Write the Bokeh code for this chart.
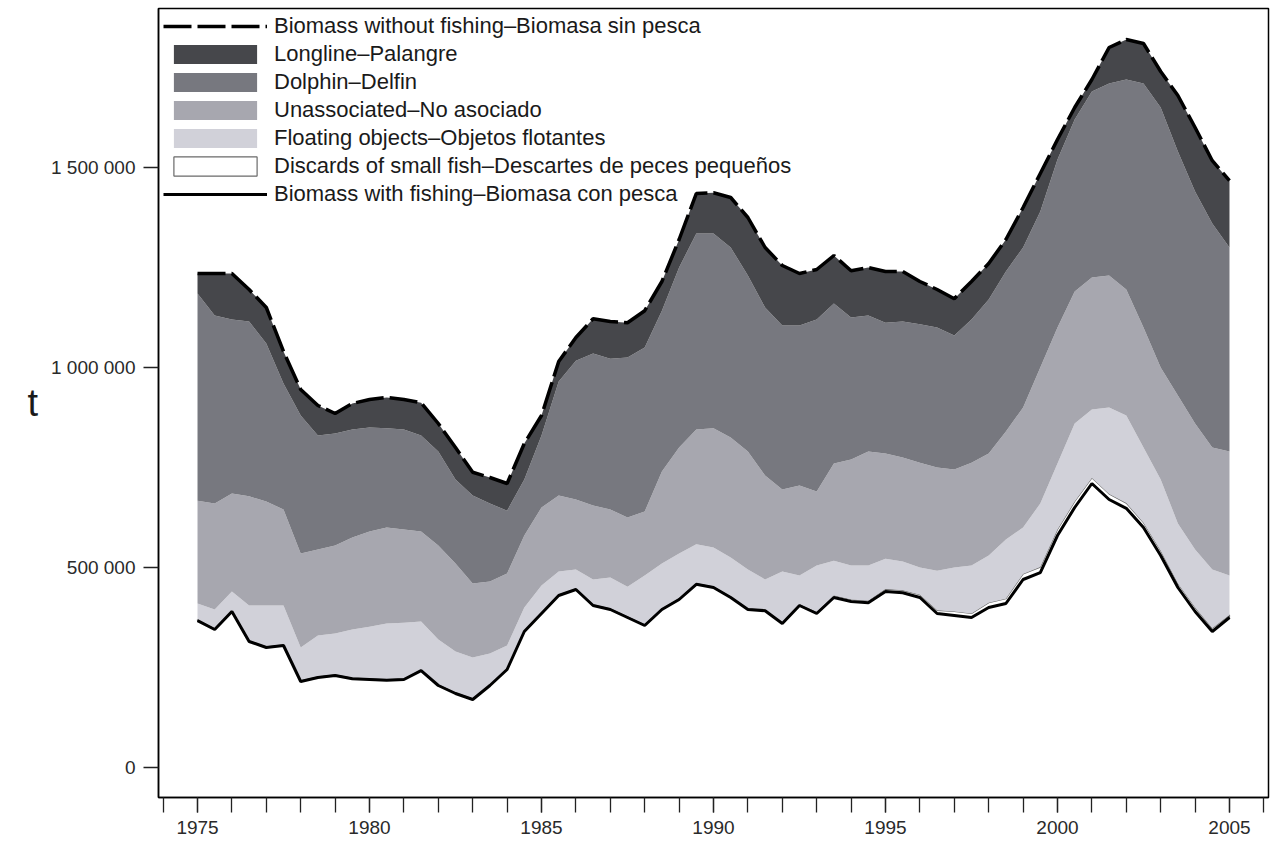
import numpy as np
from bokeh.plotting import figure
from bokeh.models import (Range1d, SingleIntervalTicker, FixedTicker, Legend,
                          LegendItem, ColumnDataSource)
from bokeh.embed import file_html
from bokeh.resources import INLINE

# Half-yearly time steps, 1975-2005
years = [1975 + 0.5 * i for i in range(61)]

# Spawning biomass with fishing (thousand t)
with_fishing = [367, 345, 390, 315, 300, 305, 215, 225, 230, 222,
                220, 218, 220, 242, 205, 185, 170, 205, 245, 340,
                385, 430, 445, 405, 395, 375, 355, 395, 420, 458,
                450, 425, 395, 392, 360, 405, 385, 425, 415, 412,
                440, 437, 425, 385, 380, 375, 400, 410, 470, 487,
                580, 650, 710, 670, 648, 600, 530, 450, 390, 340,
                375]

# Impact of each fishery on biomass (thousand t)
discards = [3, 3, 3, 3, 3, 3, 3, 3, 3, 3,
            3, 3, 3, 3, 3, 3, 3, 3, 3, 3,
            3, 3, 3, 3, 3, 3, 3, 3, 3, 3,
            3, 3, 3, 3, 3, 3, 4, 5, 5, 5,
            6, 6, 7, 8, 10, 10, 12, 12, 14, 14,
            15, 15, 14, 14, 13, 12, 12, 10, 10, 8,
            6]
floating = [40, 47, 47, 87, 102, 97, 82, 102, 102, 120,
            129, 139, 139, 120, 112, 102, 102, 77, 57, 57,
            67, 57, 47, 62, 77, 74, 122, 112, 112, 97,
            97, 97, 97, 75, 127, 72, 116, 87, 85, 88,
            76, 72, 68, 99, 110, 120, 118, 148, 116, 159,
            165, 195, 171, 216, 219, 188, 178, 150, 145, 147,
            99]
unassociated = [257, 265, 245, 273, 260, 240, 235, 215, 220, 230,
                238, 240, 233, 225, 235, 220, 185, 180, 180, 180,
                195, 190, 175, 185, 170, 173, 160, 230, 265, 287,
                298, 300, 295, 260, 205, 225, 185, 243, 265, 285,
                263, 260, 262, 258, 245, 257, 255, 270, 300, 340,
                340, 330, 330, 330, 315, 300, 280, 320, 315, 305,
                310]
dolphin = [518, 470, 435, 437, 395, 315, 345, 285, 280, 270,
           260, 248, 250, 240, 235, 210, 220, 195, 157, 140,
           180, 285, 347, 380, 377, 400, 410, 402, 450, 490,
           487, 475, 440, 420, 410, 400, 430, 400, 355, 340,
           327, 340, 346, 350, 335, 358, 385, 400, 400, 390,
           420, 430, 465, 480, 525, 610, 650, 610, 580, 560,
           510]
longline = [50, 105, 115, 80, 90, 80, 65, 75, 50, 65,
            70, 77, 75, 82, 70, 80, 58, 65, 68, 90,
            50, 50, 58, 87, 93, 87, 92, 73, 70, 100,
            102, 125, 145, 150, 150, 130, 125, 120, 117, 120,
            128, 125, 107, 95, 92, 95, 90, 80, 100, 95,
            50, 30, 30, 90, 100, 100, 90, 140, 160, 157,
            167]

series = [("Discards of small fish\u2013Descartes de peces peque\u00f1os", discards, "white"),
          ("Floating objects\u2013Objetos flotantes", floating, "#d1d1d9"),
          ("Unassociated\u2013No asociado", unassociated, "#a7a7af"),
          ("Dolphin\u2013Delfin", dolphin, "#77787f"),
          ("Longline\u2013Palangre", longline, "#46474b")]

t = 1000.0  # thousand t -> t
base = np.array(with_fishing, dtype=float) * t
data = {"year": years, "b0": base}
bounds = [base]
for i, (_, vals, _) in enumerate(series):
    bounds.append(bounds[-1] + np.array(vals, dtype=float) * t)
    data["b%d" % (i + 1)] = bounds[-1]
src = ColumnDataSource(data)

FONT = "Liberation Sans"

p = figure(width=1272, height=845,
           x_range=Range1d(1973.866, 2006.134),
           y_range=Range1d(-75000, 1897500),
           output_backend="svg", toolbar_location=None,
           min_border_left=158, min_border_right=4,
           min_border_top=8, min_border_bottom=48)
p.grid.visible = False
p.outline_line_color = "black"
p.outline_line_width = 1.5
p.background_fill_color = "white"

band_renderers = {}
# discards band as an outlined polygon between the two lowest bounds
poly_x = list(years) + list(years[::-1])
poly_y = list(bounds[1]) + list(bounds[0][::-1])
band_renderers[series[0][0]] = p.patch(poly_x, poly_y, fill_color="white",
                                       line_color="#6a6a6a", line_width=1.2)
for i, (name, _, color) in enumerate(series):
    if i == 0:
        continue
    r = p.varea(x="year", y1="b%d" % i, y2="b%d" % (i + 1), source=src,
                fill_color=color)
    band_renderers[name] = r

top_line = p.line(x="year", y="b5", source=src, line_color="black",
                  line_width=3.5, line_dash="28 6")
bottom_line = p.line(x="year", y="b0", source=src, line_color="black",
                     line_width=3)

names = [s[0] for s in series]
items = [
    LegendItem(label="Biomass without fishing\u2013Biomasa sin pesca", renderers=[top_line]),
    LegendItem(label=names[4], renderers=[band_renderers[names[4]]]),
    LegendItem(label=names[3], renderers=[band_renderers[names[3]]]),
    LegendItem(label=names[2], renderers=[band_renderers[names[2]]]),
    LegendItem(label=names[1], renderers=[band_renderers[names[1]]]),
    LegendItem(label=names[0], renderers=[band_renderers[names[0]]]),
    LegendItem(label="Biomass with fishing\u2013Biomasa con pesca", renderers=[bottom_line]),
]
legend = Legend(items=items, location="top_left",
                background_fill_alpha=0, border_line_alpha=0,
                margin=5, padding=0, spacing=2,
                glyph_width=104, glyph_height=24, label_height=24,
                label_standoff=7,
                label_text_font=FONT, label_text_font_size="22px",
                label_text_color="#1a1a1a")
p.add_layout(legend)

# x axis: labelled every 5 years, ticked every year
xa = p.xaxis[0]
xa.ticker = SingleIntervalTicker(interval=5, num_minor_ticks=5)
xa.major_tick_in = 0
xa.major_tick_out = 15
xa.minor_tick_in = 0
xa.minor_tick_out = 15
xa.major_tick_line_color = "#222222"
xa.minor_tick_line_color = "#222222"
xa.major_tick_line_width = 1.3
xa.minor_tick_line_width = 1.3
xa.axis_line_color = "black"
xa.axis_line_width = 1.5
xa.major_label_standoff = 8
xa.major_label_text_font = FONT
xa.major_label_text_font_size = "19px"
xa.major_label_text_color = "#2a2a2a"

ya = p.yaxis[0]
ya.ticker = FixedTicker(ticks=[0, 500000, 1000000, 1500000])
ya.major_label_overrides = {0: "0", 500000: "500 000",
                            1000000: "1 000 000", 1500000: "1 500 000"}
ya.major_tick_in = 0
ya.major_tick_out = 15
ya.minor_tick_out = 0
ya.minor_tick_in = 0
ya.major_tick_line_color = "#222222"
ya.major_tick_line_width = 1.3
ya.axis_line_color = "black"
ya.axis_line_width = 1.5
ya.major_label_standoff = 8
ya.major_label_text_font = FONT
ya.major_label_text_font_size = "19px"
ya.major_label_text_color = "#2a2a2a"
ya.axis_label = "t"
ya.axis_label_orientation = "horizontal"
ya.axis_label_standoff = 10
ya.axis_label_text_font = FONT
ya.axis_label_text_font_size = "38px"
ya.axis_label_text_font_style = "normal"
ya.axis_label_text_color = "#1a1a1a"

open("out.html", "w").write(file_html(p, INLINE))
